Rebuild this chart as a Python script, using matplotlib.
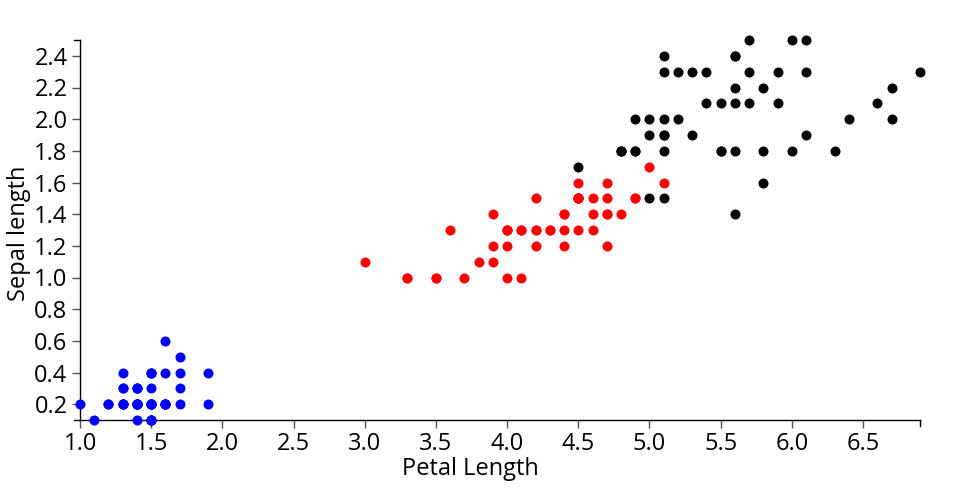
import numpy as np
import matplotlib
matplotlib.use('Agg')
import matplotlib.pyplot as plt

plt.rcParams['font.family'] = ['Open Sans', 'DejaVu Sans']

# iris petal length / width, by species
setosa_len = [1.4, 1.4, 1.3, 1.5, 1.4, 1.7, 1.4, 1.5, 1.4, 1.5, 1.5, 1.6, 1.4, 1.1, 1.2, 1.5, 1.3, 1.4, 1.7, 1.5,
              1.7, 1.5, 1.0, 1.7, 1.9, 1.6, 1.6, 1.5, 1.4, 1.6, 1.6, 1.5, 1.5, 1.4, 1.5, 1.2, 1.3, 1.5, 1.3, 1.5,
              1.3, 1.3, 1.3, 1.6, 1.9, 1.4, 1.6, 1.4, 1.5, 1.4]
setosa_wid = [0.2, 0.2, 0.2, 0.2, 0.2, 0.4, 0.3, 0.2, 0.2, 0.1, 0.2, 0.2, 0.1, 0.1, 0.2, 0.4, 0.4, 0.3, 0.3, 0.3,
              0.2, 0.4, 0.2, 0.5, 0.2, 0.2, 0.4, 0.2, 0.2, 0.2, 0.2, 0.4, 0.1, 0.2, 0.1, 0.2, 0.2, 0.1, 0.2, 0.2,
              0.3, 0.3, 0.2, 0.6, 0.4, 0.3, 0.2, 0.2, 0.2, 0.2]

versicolor_len = [4.7, 4.5, 4.9, 4.0, 4.6, 4.5, 4.7, 3.3, 4.6, 3.9, 3.5, 4.2, 4.0, 4.7, 3.6, 4.4, 4.5, 4.1, 4.5, 3.9,
                  4.8, 4.0, 4.9, 4.7, 4.3, 4.4, 4.8, 5.0, 4.5, 3.5, 3.8, 3.7, 3.9, 5.1, 4.5, 4.5, 4.7, 4.4, 4.1, 4.0,
                  4.4, 4.6, 4.0, 3.3, 4.2, 4.2, 4.2, 4.3, 3.0, 4.1]
versicolor_wid = [1.4, 1.5, 1.5, 1.3, 1.5, 1.3, 1.6, 1.0, 1.3, 1.4, 1.0, 1.5, 1.0, 1.4, 1.3, 1.4, 1.5, 1.0, 1.5, 1.1,
                  1.8, 1.3, 1.5, 1.2, 1.3, 1.4, 1.4, 1.7, 1.5, 1.0, 1.1, 1.0, 1.2, 1.6, 1.5, 1.6, 1.5, 1.3, 1.3, 1.3,
                  1.2, 1.4, 1.2, 1.0, 1.3, 1.2, 1.3, 1.3, 1.1, 1.3]

virginica_len = [6.0, 5.1, 5.9, 5.6, 5.8, 6.6, 4.5, 6.3, 5.8, 6.1, 5.1, 5.3, 5.5, 5.0, 5.1, 5.3, 5.5, 6.7, 6.9, 5.0,
                 5.7, 4.9, 6.7, 4.9, 5.7, 6.0, 4.8, 4.9, 5.6, 5.8, 6.1, 6.4, 5.6, 5.1, 5.6, 6.1, 5.6, 5.5, 4.8, 5.4,
                 5.6, 5.1, 5.1, 5.9, 5.7, 5.2, 5.0, 5.2, 5.4, 5.1]
virginica_wid = [2.5, 1.9, 2.1, 1.8, 2.2, 2.1, 1.7, 1.8, 1.8, 2.5, 2.0, 1.9, 2.1, 2.0, 2.4, 2.3, 1.8, 2.2, 2.3, 1.5,
                 2.3, 2.0, 2.0, 1.8, 2.1, 1.8, 1.8, 1.8, 2.1, 1.6, 1.9, 2.0, 2.2, 1.5, 1.4, 2.3, 2.4, 1.8, 1.8, 2.1,
                 2.4, 2.3, 1.9, 2.3, 2.5, 2.3, 1.9, 2.0, 2.3, 1.8]

x_ticks = [1.0, 1.5, 2.0, 2.5, 3.0, 3.5, 4.0, 4.5, 5.0, 5.5, 6.0, 6.5]
y_ticks = [0.2, 0.4, 0.6, 0.8, 1.0, 1.2, 1.4, 1.6, 1.8, 2.0, 2.2, 2.4]

fig = plt.figure(figsize=(9.6, 5), dpi=100)
ax = fig.add_axes([80 / 960, 80 / 500, 840 / 960, 380 / 500])

ax.scatter(setosa_len, setosa_wid, s=52, color='#0000ff', linewidths=0, zorder=3, clip_on=False)
ax.scatter(versicolor_len, versicolor_wid, s=52, color='#ff0000', linewidths=0, zorder=3, clip_on=False)
ax.scatter(virginica_len, virginica_wid, s=52, color='black', linewidths=0, zorder=3, clip_on=False)

ax.set_xlim(1.0, 6.9)
ax.set_ylim(0.1, 2.5)
ax.set_xticks(x_ticks)
ax.set_xticklabels([f'{v:.1f}' for v in x_ticks])
ax.set_yticks(y_ticks)
ax.set_yticklabels([f'{v:.1f}' for v in y_ticks])

for s in ['top', 'right']:
    ax.spines[s].set_visible(False)
for s in ['left', 'bottom']:
    ax.spines[s].set_linewidth(1)
ax.tick_params(direction='out', length=6, width=1, color='#555555', labelsize=17, pad=3)

# outer end ticks like d3 axis domain
xt = ax.get_xaxis_transform()
yt = ax.get_yaxis_transform()
ax.plot([6.9, 6.9], [0, -6 / 380], transform=xt, color='black', lw=1, clip_on=False)
ax.plot([-6 / 840, 0], [2.5, 2.5], transform=yt, color='black', lw=1, clip_on=False)
ax.plot([-6 / 840, 0], [0.1, 0.1], transform=yt, color='black', lw=1, clip_on=False)

fig.text(470 / 960, 1 - 475 / 500, 'Petal Length', ha='center', va='baseline', fontsize=17)
fig.text(19 / 960, 1 - 233 / 500, 'Sepal length', ha='center', va='center', rotation=90, fontsize=17)

fig.savefig('out.png', dpi=100)
